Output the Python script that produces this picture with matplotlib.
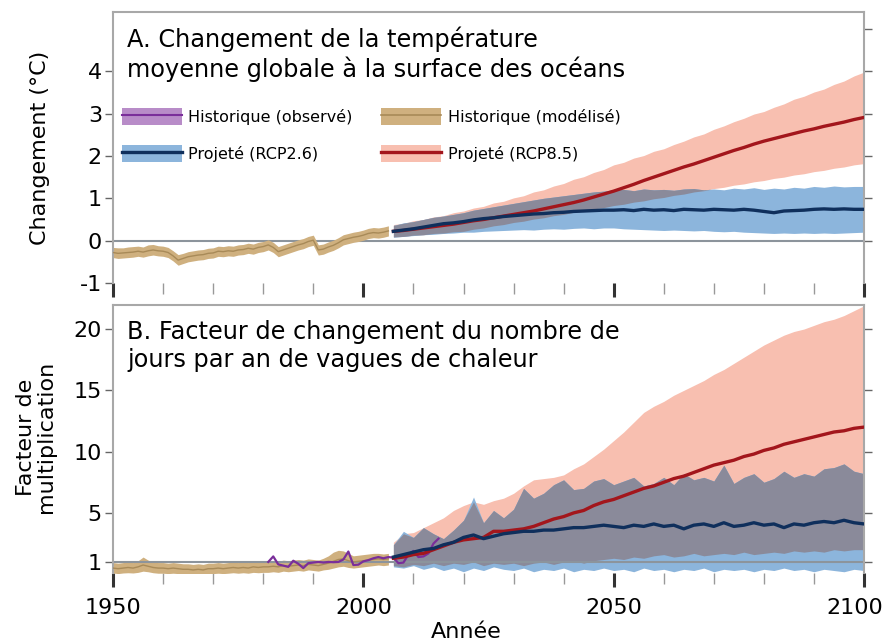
import numpy as np
import matplotlib
matplotlib.use("Agg")
from matplotlib import pyplot as plt
from matplotlib.patches import Patch
from matplotlib.lines import Line2D
from matplotlib.transforms import ScaledTranslation

plt.rcParams["axes.unicode_minus"] = False

# ---- data ----
hist_years = np.arange(1950, 2006)
obs_years = np.arange(1981, 2016)
proj_years = np.arange(2006, 2101, 2)

# panel A : sea surface temperature change (°C)
tan_top_mean = [-0.28, -0.30, -0.29, -0.28, -0.27, -0.25, -0.27, -0.24, -0.22, -0.24,
                -0.25, -0.28, -0.36, -0.46, -0.42, -0.38, -0.36, -0.34, -0.33, -0.30,
                -0.29, -0.25, -0.26, -0.24, -0.25, -0.22, -0.21, -0.18, -0.20, -0.16,
                -0.14, -0.10, -0.16, -0.26, -0.22, -0.18, -0.14, -0.10, -0.07, -0.02,
                0.01, -0.22, -0.20, -0.15, -0.11, -0.05, 0.02, 0.05, 0.08, 0.10,
                0.13, 0.17, 0.19, 0.18, 0.20, 0.23]
tan_top_hi = [-0.16, -0.17, -0.17, -0.15, -0.14, -0.13, -0.15, -0.10, -0.09, -0.12,
              -0.13, -0.16, -0.24, -0.33, -0.30, -0.26, -0.24, -0.22, -0.21, -0.18,
              -0.17, -0.13, -0.14, -0.12, -0.13, -0.10, -0.09, -0.06, -0.08, -0.04,
              -0.02, 0.02, -0.04, -0.14, -0.10, -0.06, -0.02, 0.02, 0.05, 0.10,
              0.13, -0.10, -0.08, -0.03, 0.01, 0.07, 0.14, 0.17, 0.20, 0.22,
              0.25, 0.29, 0.31, 0.30, 0.32, 0.35]
tan_top_lo = [-0.40, -0.42, -0.41, -0.40, -0.39, -0.37, -0.39, -0.36, -0.34, -0.36,
              -0.37, -0.40, -0.48, -0.58, -0.54, -0.50, -0.48, -0.46, -0.45, -0.42,
              -0.41, -0.37, -0.38, -0.36, -0.37, -0.34, -0.33, -0.30, -0.32, -0.28,
              -0.26, -0.22, -0.28, -0.38, -0.34, -0.30, -0.26, -0.22, -0.19, -0.14,
              -0.11, -0.34, -0.32, -0.27, -0.23, -0.17, -0.10, -0.07, -0.04, -0.02,
              0.01, 0.05, 0.07, 0.06, 0.08, 0.11]

top_rcp26_mean = [0.22, 0.25, 0.28, 0.32, 0.36, 0.40, 0.42, 0.45, 0.49, 0.52,
                  0.54, 0.57, 0.59, 0.61, 0.63, 0.64, 0.66, 0.67, 0.69, 0.70,
                  0.71, 0.72, 0.72, 0.73, 0.71, 0.74, 0.72, 0.73, 0.71, 0.74,
                  0.73, 0.72, 0.74, 0.73, 0.72, 0.74, 0.72, 0.69, 0.66, 0.70,
                  0.71, 0.72, 0.74, 0.75, 0.74, 0.75, 0.74, 0.74]
top_rcp26_hi = [0.36, 0.42, 0.45, 0.50, 0.55, 0.58, 0.62, 0.66, 0.72, 0.76,
                0.80, 0.84, 0.88, 0.92, 0.96, 1.00, 1.03, 1.06, 1.09, 1.12,
                1.15, 1.17, 1.20, 1.21, 1.18, 1.22, 1.20, 1.21, 1.19, 1.22,
                1.23, 1.20, 1.22, 1.20, 1.24, 1.22, 1.25, 1.21, 1.24, 1.22,
                1.26, 1.24, 1.28, 1.26, 1.29, 1.27, 1.28, 1.28]
top_rcp26_lo = [0.08, 0.10, 0.12, 0.14, 0.15, 0.17, 0.18, 0.20, 0.20, 0.22,
                0.23, 0.24, 0.25, 0.26, 0.25, 0.27, 0.28, 0.27, 0.29, 0.30,
                0.28, 0.30, 0.30, 0.28, 0.27, 0.26, 0.25, 0.24, 0.25, 0.24,
                0.23, 0.24, 0.22, 0.21, 0.22, 0.20, 0.19, 0.18, 0.17, 0.18,
                0.17, 0.18, 0.17, 0.18, 0.17, 0.18, 0.19, 0.20]
top_rcp85_mean = [0.22, 0.24, 0.27, 0.30, 0.33, 0.36, 0.39, 0.43, 0.47, 0.50,
                  0.54, 0.58, 0.62, 0.66, 0.70, 0.75, 0.80, 0.85, 0.90, 0.96,
                  1.03, 1.10, 1.17, 1.25, 1.33, 1.42, 1.50, 1.58, 1.66, 1.74,
                  1.81, 1.89, 1.97, 2.05, 2.13, 2.20, 2.28, 2.35, 2.41, 2.47,
                  2.53, 2.59, 2.64, 2.70, 2.75, 2.80, 2.86, 2.91]
top_rcp85_hi = [0.38, 0.41, 0.47, 0.50, 0.56, 0.59, 0.66, 0.70, 0.77, 0.81,
                0.89, 0.93, 1.01, 1.06, 1.15, 1.20, 1.29, 1.35, 1.45, 1.51,
                1.61, 1.68, 1.79, 1.85, 1.95, 2.01, 2.11, 2.17, 2.27, 2.35,
                2.45, 2.52, 2.63, 2.71, 2.81, 2.89, 2.99, 3.05, 3.15, 3.23,
                3.34, 3.41, 3.51, 3.58, 3.69, 3.77, 3.89, 3.98]
top_rcp85_lo = [0.09, 0.10, 0.13, 0.14, 0.17, 0.18, 0.21, 0.22, 0.27, 0.30,
                0.35, 0.38, 0.43, 0.46, 0.51, 0.54, 0.59, 0.62, 0.67, 0.70,
                0.75, 0.78, 0.83, 0.86, 0.91, 0.94, 0.99, 1.02, 1.07, 1.10,
                1.15, 1.18, 1.23, 1.26, 1.31, 1.34, 1.39, 1.42, 1.47, 1.50,
                1.55, 1.58, 1.63, 1.66, 1.71, 1.74, 1.79, 1.82]

# panel B : heatwave days multiplication factor
tan_bot_mean = [0.50, 0.45, 0.50, 0.55, 0.50, 0.60, 0.75, 0.65, 0.55, 0.50,
                0.50, 0.45, 0.50, 0.45, 0.40, 0.40, 0.35, 0.40, 0.35, 0.45,
                0.45, 0.50, 0.45, 0.50, 0.55, 0.50, 0.55, 0.50, 0.60, 0.55,
                0.60, 0.60, 0.65, 0.60, 0.70, 0.65, 0.70, 0.75, 0.70, 0.80,
                0.75, 0.70, 0.80, 0.90, 1.05, 1.20, 1.25, 1.10, 1.00, 1.05,
                1.10, 1.15, 1.20, 1.25, 1.20, 1.25]
tan_bot_hi = [0.95, 0.90, 0.95, 1.00, 0.95, 1.10, 1.40, 1.15, 1.00, 0.95,
              0.95, 0.90, 0.95, 0.90, 0.85, 0.85, 0.80, 0.85, 0.80, 0.90,
              0.90, 0.95, 0.90, 0.95, 1.00, 0.95, 1.00, 0.95, 1.05, 1.00,
              1.05, 1.05, 1.10, 1.05, 1.15, 1.10, 1.15, 1.20, 1.15, 1.25,
              1.20, 1.15, 1.30, 1.50, 1.80, 1.95, 1.90, 1.70, 1.50, 1.55,
              1.60, 1.65, 1.70, 1.70, 1.65, 1.70]
tan_bot_lo = [0.10, 0.05, 0.10, 0.12, 0.10, 0.15, 0.25, 0.20, 0.12, 0.08,
              0.08, 0.05, 0.08, 0.05, 0.02, 0.02, 0.00, 0.02, 0.00, 0.05,
              0.05, 0.08, 0.05, 0.08, 0.12, 0.08, 0.12, 0.08, 0.15, 0.12,
              0.15, 0.15, 0.20, 0.15, 0.25, 0.20, 0.25, 0.30, 0.25, 0.35,
              0.30, 0.25, 0.35, 0.40, 0.50, 0.60, 0.65, 0.55, 0.50, 0.55,
              0.60, 0.65, 0.70, 0.75, 0.70, 0.75]
obs_vals = [1.00, 1.45, 0.80, 0.70, 0.60, 1.10, 0.85, 0.50, 0.90, 0.95,
            1.00, 0.95, 1.00, 0.98, 1.00, 1.20, 1.85, 0.75, 0.78, 1.05,
            1.15, 1.30, 1.40, 1.30, 1.40, 1.35, 0.90, 0.95, 1.60, 1.90,
            1.40, 1.45, 1.70, 2.50, 2.90]

bot_rcp26_mean = [1.4, 1.6, 1.8, 2.0, 2.1, 2.4, 2.6, 3.0, 3.2, 2.9,
                  3.1, 3.3, 3.4, 3.5, 3.5, 3.6, 3.6, 3.7, 3.8, 3.8,
                  3.9, 4.0, 3.9, 3.8, 4.0, 3.9, 4.1, 3.9, 4.0, 3.7,
                  4.0, 4.1, 3.9, 4.2, 3.9, 4.0, 4.2, 4.0, 4.1, 3.8,
                  4.1, 4.0, 4.2, 4.3, 4.2, 4.4, 4.2, 4.1]
bot_rcp26_hi = [2.4, 3.5, 3.0, 3.8, 3.3, 2.9, 3.6, 4.4, 6.3, 4.2,
                5.2, 4.6, 5.3, 7.0, 6.2, 6.6, 7.3, 7.7, 6.9, 7.0,
                7.6, 7.8, 7.3, 7.6, 7.9, 7.2, 7.4, 7.9, 7.3, 8.2,
                7.7, 7.9, 7.6, 8.9, 7.4, 7.9, 8.2, 7.5, 7.8, 8.4,
                7.9, 8.2, 8.0, 8.6, 8.7, 9.0, 8.4, 8.2]
bot_rcp26_lo = [0.6, 0.5, 0.7, 0.4, 0.6, 0.3, 0.5, 0.2, 0.5, 0.3,
                0.6, 0.4, 0.3, 0.5, 0.2, 0.4, 0.3, 0.5, 0.2, 0.4,
                0.3, 0.5, 0.3, 0.4, 0.2, 0.5, 0.3, 0.4, 0.2, 0.4,
                0.3, 0.5, 0.2, 0.4, 0.3, 0.4, 0.2, 0.4, 0.3, 0.5,
                0.3, 0.4, 0.2, 0.4, 0.3, 0.2, 0.4, 0.3]
bot_rcp85_mean = [1.3, 1.4, 1.6, 1.7, 2.0, 2.3, 2.6, 2.8, 2.9, 3.0,
                  3.5, 3.5, 3.6, 3.7, 3.9, 4.2, 4.5, 4.7, 5.0, 5.2,
                  5.6, 5.9, 6.1, 6.4, 6.7, 7.0, 7.2, 7.5, 7.8, 8.0,
                  8.3, 8.6, 8.9, 9.1, 9.3, 9.6, 9.8, 10.1, 10.3, 10.6,
                  10.8, 11.0, 11.2, 11.4, 11.6, 11.7, 11.9, 12.0]
bot_rcp85_hi = [2.6, 3.3, 3.4, 3.8, 4.2, 4.6, 5.2, 5.6, 5.9, 5.7,
                6.0, 6.2, 6.6, 7.2, 7.7, 7.8, 7.9, 8.1, 8.6, 9.0,
                9.6, 10.2, 10.9, 11.6, 12.4, 13.2, 13.7, 14.1, 14.6, 15.0,
                15.4, 15.8, 16.3, 16.7, 17.2, 17.7, 18.2, 18.7, 19.1, 19.5,
                19.8, 20.0, 20.3, 20.6, 20.8, 21.1, 21.5, 21.9]
bot_rcp85_lo = [0.7, 0.6, 0.8, 0.7, 0.9, 0.7, 0.9, 0.8, 1.0, 0.7,
                0.9, 0.8, 0.9, 0.7, 0.9, 1.0, 0.8, 1.0, 1.1, 0.9,
                1.1, 1.2, 1.3, 1.2, 1.4, 1.3, 1.5, 1.6, 1.4, 1.5,
                1.7, 1.5, 1.6, 1.7, 1.6, 1.8, 1.6, 1.7, 1.8, 1.7,
                1.9, 1.8, 1.9, 1.8, 2.0, 1.9, 2.0, 2.0]

labels = ["Historique (observé)", "Projeté (RCP2.6)",
          "Historique (modélisé)", "Projeté (RCP8.5)"]

# ---- colours ----
tan_fill, tan_line = "#cfb07f", "#a88a58"
purple_fill, purple_line = "#b88cc8", "#7a2e9a"
blue_fill, blue_line = "#8cb5dc", "#0f2f5c"
pink_fill, red_line = "#f8bfb0", "#a3161c"
overlap = "#8a8a9a"
spine_col = "#a8a8a8"
ref_col = "#8c949c"

fig = plt.figure(figsize=(8.88, 6.42), dpi=100)
ax1 = fig.add_axes([0.1273, 0.5592, 0.8457, 0.4221])
ax2 = fig.add_axes([0.1273, 0.1075, 0.8457, 0.4174])


def bands(ax, lo26, hi26, lo85, hi85, mean26, mean85):
    lo26, hi26 = np.array(lo26), np.array(hi26)
    lo85, hi85 = np.array(lo85), np.array(hi85)
    ax.fill_between(proj_years, lo85, hi85, color=pink_fill, lw=0, zorder=2)
    ax.fill_between(proj_years, lo26, hi26, color=blue_fill, lw=0, zorder=2.1)
    lo = np.maximum(lo26, lo85)
    hi = np.minimum(hi26, hi85)
    ax.fill_between(proj_years, lo, hi, where=hi > lo, interpolate=True,
                    color=overlap, lw=0, zorder=2.2)
    ax.plot(proj_years, mean85, color=red_line, lw=2.4, zorder=4)
    ax.plot(proj_years, mean26, color=blue_line, lw=2.4, zorder=4.1)


def style(ax, ylim, left_ticks, right_ticks):
    ax.set_xlim(1950, 2100)
    ax.set_ylim(*ylim)
    for s in ["top", "left", "right"]:
        ax.spines[s].set_color(spine_col)
        ax.spines[s].set_linewidth(1.5)
    ax.spines["bottom"].set_visible(False)
    ax.set_xticks([1950, 2000, 2050, 2100])
    ax.set_xticks(np.arange(1950, 2101, 10), minor=True)
    ax.tick_params(axis="x", which="major", length=10, width=2.2, color="#333333",
                   labelsize=16, pad=8)
    ax.tick_params(axis="x", which="minor", length=8, width=1, color="#999999")
    ax.set_yticks(left_ticks)
    ax.tick_params(axis="y", length=6, width=1, color="#666666", labelsize=16, pad=2)
    sec = ax.secondary_yaxis("right")
    sec.set_yticks(right_ticks)
    sec.set_yticklabels([])
    sec.tick_params(length=6, width=1, color="#666666")
    sec.spines["right"].set_visible(False)


# panel A
ax1.fill_between(hist_years, tan_top_lo, tan_top_hi, color=tan_fill, lw=0, zorder=2)
ax1.plot(hist_years, tan_top_mean, color=tan_line, lw=1, zorder=3)
bands(ax1, top_rcp26_lo, top_rcp26_hi, top_rcp85_lo, top_rcp85_hi,
      top_rcp26_mean, top_rcp85_mean)
ax1.axhline(0, color=ref_col, lw=1.5, zorder=1)
style(ax1, (-1, 5.4), [-1, 0, 1, 2, 3, 4], [0, 1, 2, 3, 4, 5])
ax1.set_xticklabels([])
ax1.text(0.019, 0.945, "A. Changement de la température\nmoyenne globale à la surface des océans",
         transform=ax1.transAxes, fontsize=17.3, va="top", ha="left", linespacing=1.2)

handles = [
    (Patch(facecolor=purple_fill), Line2D([], [], color=purple_line, lw=1.5)),
    (Patch(facecolor=blue_fill), Line2D([], [], color=blue_line, lw=2.4)),
    (Patch(facecolor=tan_fill), Line2D([], [], color=tan_line, lw=1.2)),
    (Patch(facecolor=pink_fill), Line2D([], [], color=red_line, lw=2.4)),
]
ax1.legend(handles, labels, ncol=2, loc="upper left", bbox_to_anchor=(0.012, 0.645),
           frameon=False, fontsize=11.5, handlelength=3.75, handleheight=1.25,
           handletextpad=0.4, columnspacing=1.8, labelspacing=1.25, borderpad=0,
           borderaxespad=0)

# panel B
ax2.fill_between(hist_years, tan_bot_lo, tan_bot_hi, color=tan_fill, lw=0, zorder=2)
ax2.plot(hist_years, tan_bot_mean, color=tan_line, lw=1, zorder=3)
bands(ax2, bot_rcp26_lo, bot_rcp26_hi, bot_rcp85_lo, bot_rcp85_hi,
      bot_rcp26_mean, bot_rcp85_mean)
ax2.plot(obs_years, obs_vals, color=purple_line, lw=1.6, zorder=3.5)
ax2.axhline(1, color=ref_col, lw=1.5, zorder=2.5)
style(ax2, (0.1, 21.96), [1, 5, 10, 15, 20], [1, 5, 10, 15, 20])
ax2.text(0.019, 0.945, "B. Facteur de changement du nombre de\njours par an de vagues de chaleur",
         transform=ax2.transAxes, fontsize=17.3, va="top", ha="left", linespacing=1.2)

# pull the last year label slightly inward so it stays on the canvas
last = ax2.get_xticklabels()[-1]
last.set_transform(last.get_transform() + ScaledTranslation(-9 / 100, 0, fig.dpi_scale_trans))

fig.text(40 / 888, 1 - 148 / 642, "Changement (°C)", rotation=90, fontsize=16,
         ha="center", va="center")
fig.text(36 / 888, 1 - 437 / 642, "Facteur de\nmultiplication", rotation=90, fontsize=16,
         ha="center", va="center", multialignment="center", linespacing=1.0)
fig.text(466 / 888, 1 - 632 / 642, "Année", fontsize=16, ha="center", va="center")

fig.savefig("out.png", dpi=100)
